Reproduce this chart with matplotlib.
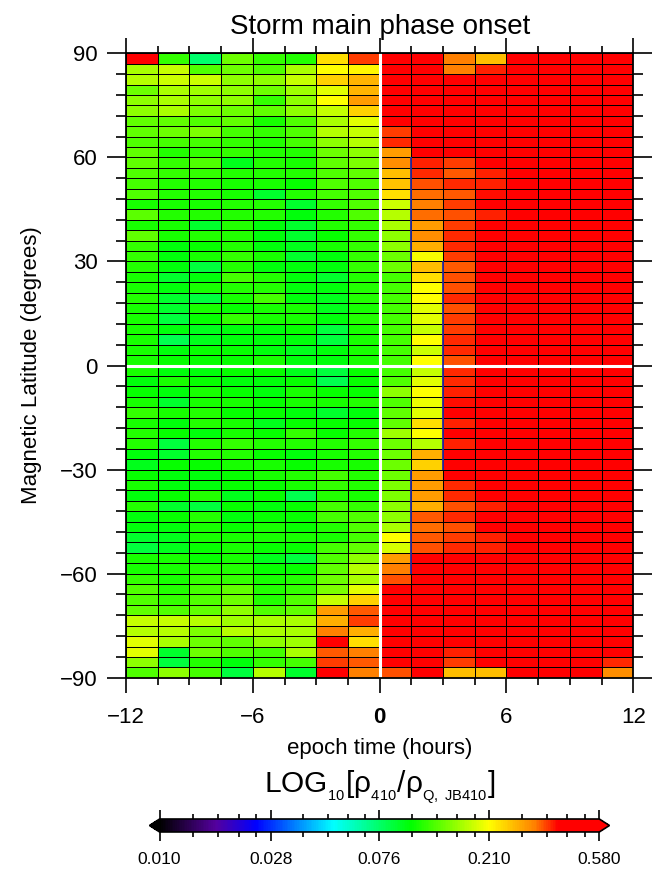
import numpy as np
import matplotlib
matplotlib.use("Agg")
import matplotlib.pyplot as plt
from matplotlib.colors import LinearSegmentedColormap, LogNorm
from matplotlib.ticker import MultipleLocator, FixedLocator, FixedFormatter, NullFormatter

plt.rcParams['font.family'] = ['Liberation Sans', 'DejaVu Sans']
plt.rcParams['mathtext.fontset'] = 'custom'
plt.rcParams['mathtext.rm'] = 'Liberation Sans'
plt.rcParams['mathtext.it'] = 'Liberation Sans:italic'

# bins: 1.5 h in epoch time, 3 deg in magnetic latitude (rows run 90 -> -90)
time_edges = np.arange(-12, 12.01, 1.5)
lat_edges = np.arange(90, -90.01, -3)

R = 0.50  # saturated red cells
ratio = np.array([
    [R, .118, .075, .139, .118, .113, .233, .358, R, R, .322, .259, R, R, R, R],
    [.164, .179, .128, .139, .128, .164, .210, .215, R, R, .322, .377, R, R, R, R],
    [.171, .182, .182, .151, .151, .179, .243, .270, R, R, R, R, R, R, R, R],
    [.139, .164, .158, .151, .139, .158, .194, .270, R, R, R, R, R, R, R, R],
    [.151, .164, .151, .151, .118, .151, .210, .289, R, R, R, R, R, R, R, R],
    [.151, .164, .145, .139, .134, .151, .179, .243, R, R, R, R, R, R, R, R],
    [.134, .134, .128, .134, .109, .128, .164, .194, R, R, R, R, R, R, R, R],
    [.134, .139, .145, .123, .118, .128, .171, .179, .358, R, R, R, R, R, R, R],
    [.128, .123, .123, .118, .113, .123, .151, .171, .367, R, R, R, R, R, R, R],
    [.134, .113, .118, .118, .113, .113, .139, .151, .289, R, R, R, R, R, R, R],
    [.134, .118, .128, .095, .113, .109, .134, .145, .305, .377, .358, .400, R, R, R, R],
    [.128, .118, .118, .113, .113, .113, .128, .134, .259, .367, .339, .377, R, R, R, R],
    [.123, .113, .113, .109, .109, .104, .128, .128, .255, .349, .367, .377, R, R, R, R],
    [.128, .113, .113, .109, .090, .113, .123, .128, .233, .330, .339, .387, R, R, R, R],
    [.109, .109, .109, .113, .113, .090, .118, .128, .182, .322, .358, .400, R, R, R, R],
    [.131, .113, .113, .113, .113, .099, .113, .128, .171, .330, .349, .377, R, R, R, R],
    [.109, .109, .090, .113, .099, .090, .113, .118, .164, .289, .358, R, R, R, R, R],
    [.134, .109, .113, .113, .099, .090, .104, .118, .151, .305, .367, R, R, R, R, R],
    [.118, .099, .104, .113, .099, .095, .109, .118, .151, .274, .367, R, R, R, R, R],
    [.118, .099, .109, .118, .109, .090, .099, .118, .139, .205, .358, R, R, R, R, R],
    [.113, .099, .086, .113, .099, .099, .099, .118, .139, .259, .339, R, R, R, R, R],
    [.109, .090, .099, .123, .113, .099, .090, .113, .123, .233, .349, R, R, R, R, R],
    [.109, .099, .109, .113, .113, .099, .099, .113, .123, .210, .349, R, R, R, R, R],
    [.113, .090, .086, .109, .123, .099, .095, .113, .123, .210, .367, R, R, R, R, R],
    [.109, .090, .109, .104, .109, .109, .095, .109, .123, .194, .349, R, R, R, R, R],
    [.109, .086, .104, .118, .109, .109, .099, .113, .123, .194, .358, R, R, R, R, R],
    [.109, .099, .095, .099, .099, .104, .086, .109, .123, .179, .358, R, R, R, R, R],
    [.109, .082, .095, .099, .099, .099, .086, .109, .123, .210, .367, R, R, R, R, R],
    [.109, .099, .104, .104, .099, .095, .099, .109, .123, .182, .367, R, R, R, R, R],
    [.109, .104, .104, .104, .109, .099, .099, .109, .123, .210, .349, R, R, R, R, R],
    [.109, .099, .099, .104, .104, .095, .086, .104, .123, .179, .367, R, R, R, R, R],
    [.099, .109, .104, .099, .099, .104, .082, .104, .128, .194, .367, R, R, R, R, R],
    [.104, .099, .109, .104, .099, .109, .104, .104, .151, .210, .377, R, R, R, R, R],
    [.109, .090, .109, .109, .104, .109, .109, .113, .128, .198, .387, R, R, R, R, R],
    [.118, .109, .113, .104, .104, .099, .090, .099, .134, .194, R, R, R, R, R, R],
    [.109, .099, .113, .109, .095, .104, .104, .104, .134, .233, .377, R, R, R, R, R],
    [.113, .104, .099, .109, .104, .118, .104, .113, .158, .210, R, R, R, R, R, R],
    [.113, .086, .113, .118, .113, .113, .113, .118, .139, .171, .377, R, R, R, R, R],
    [.099, .090, .113, .113, .104, .099, .109, .113, .139, .274, R, R, R, R, R, R],
    [.095, .104, .104, .109, .109, .104, .109, .109, .139, .246, R, R, R, R, R, R],
    [.104, .099, .099, .104, .109, .113, .123, .113, .139, .289, R, R, R, R, R, R],
    [.109, .099, .099, .104, .104, .109, .118, .113, .145, .289, .367, R, R, R, R, R],
    [.099, .104, .113, .095, .104, .082, .113, .109, .145, .289, .367, R, R, R, R, R],
    [.113, .090, .086, .104, .099, .104, .123, .118, .151, .274, .349, .377, R, R, R, R],
    [.099, .104, .113, .099, .104, .104, .123, .128, .151, .339, .367, R, R, R, R, R],
    [.099, .099, .109, .104, .109, .104, .113, .128, .164, .330, .349, R, R, R, R, R],
    [.090, .095, .109, .109, .109, .109, .109, .123, .210, .339, .358, .377, R, R, R, R],
    [.086, .095, .104, .109, .104, .104, .123, .134, .186, .349, .367, .377, R, R, R, R],
    [.109, .109, .104, .109, .095, .086, .128, .151, .289, R, R, R, R, R, R, R],
    [.109, .109, .113, .113, .104, .104, .134, .171, .322, R, R, R, R, R, R, R],
    [.118, .109, .118, .118, .109, .113, .139, .164, .349, R, R, R, R, R, R, R],
    [.128, .113, .123, .134, .113, .118, .145, .194, R, R, R, R, R, R, R, R],
    [.128, .118, .128, .139, .113, .128, .179, .246, R, R, R, R, R, R, R, R],
    [.134, .128, .134, .151, .128, .134, .289, .339, R, R, R, R, R, R, R, R],
    [.179, .179, .171, .158, .164, .164, .274, .358, R, R, R, R, R, R, R, R],
    [.171, .171, .145, .171, .164, .164, .322, .274, R, R, R, R, R, R, R, R],
    [.194, .164, .139, .134, .151, .158, R, .233, R, R, R, R, R, R, R, R],
    [.194, .090, .139, .128, .123, .164, .339, .322, R, R, .377, R, R, R, R, R],
    [.151, .086, .113, .099, .118, .123, .358, .339, R, R, .358, R, R, R, R, .367],
    [.128, .151, .123, .086, .171, .090, R, .322, .349, R, .259, .259, R, R, R, .305],
])

# boundary of the storm arrival (dark blue segments)
front_time = [1.5, 3.0, 1.5]
front_lat_lo = [30, -30, -60]
front_lat_hi = [60, 30, -30]

cbar_ticks = [0.010, 0.028, 0.076, 0.210, 0.580]

cmap = LinearSegmentedColormap.from_list("idl", [
    (0.000, (0, 0, 0)),
    (0.127, (0.33, 0.0, 0.62)),
    (0.218, (0, 0, 1)),
    (0.395, (0, 1, 1)),
    (0.572, (0, 1, 0)),
    (0.750, (1, 1, 0)),
    (0.855, (1, 0.5, 0)),
    (0.907, (1, 0, 0)),
    (1.000, (1, 0, 0))])
norm = LogNorm(vmin=cbar_ticks[0], vmax=cbar_ticks[-1])

fig = plt.figure(figsize=(6.58, 8.71), dpi=100)
ax = fig.add_axes([0.1915, 0.2219, 0.7710, 0.7169])
mesh = ax.pcolormesh(time_edges, lat_edges, ratio, cmap=cmap, norm=norm,
                     edgecolors='k', linewidth=0.55)
ax.axvline(0, color='white', lw=2.2)
ax.axhline(0, color='white', lw=2.2)
ax.vlines(front_time, front_lat_lo, front_lat_hi, color='#2a2aa0', lw=1.3)

ax.set_xlim(-12, 12)
ax.set_ylim(-90, 90)
ax.xaxis.set_major_locator(MultipleLocator(6))
ax.xaxis.set_minor_locator(MultipleLocator(1.5))
ax.yaxis.set_major_locator(MultipleLocator(30))
ax.yaxis.set_minor_locator(MultipleLocator(6))
ax.tick_params(axis='x', which='major', direction='out', length=11, width=1.2,
               top=True, labelsize=16, pad=10)
ax.tick_params(axis='x', which='minor', direction='out', length=5.3, width=1.2, top=True)
ax.tick_params(axis='y', which='major', direction='out', length=14, width=1.2,
               right=True, labelsize=16, pad=6.5)
ax.tick_params(axis='y', which='minor', direction='out', length=7.5, width=1.2, right=True)
for s in ax.spines.values():
    s.set_linewidth(1.3)
for lab in ax.get_xticklabels():
    if lab.get_text() in ('0',):
        lab.set_fontweight('bold')

ax.set_title("Storm main phase onset", fontsize=20, pad=14)
ax.set_xlabel("epoch time (hours)", fontsize=16, labelpad=7)
ax.set_ylabel("Magnetic Latitude (degrees)", fontsize=16, labelpad=13)

cax = fig.add_axes([0.2272, 0.0448, 0.699, 0.0149])
cb = fig.colorbar(mesh, cax=cax, orientation='horizontal', extend='both',
                  extendfrac=0.023, ticks=cbar_ticks)
cb.outline.set_linewidth(1.2)
cb.ax.xaxis.set_major_formatter(FixedFormatter(["%.3f" % t for t in cbar_ticks]))
minor = []
for a, b in zip(cbar_ticks[:-1], cbar_ticks[1:]):
    minor += list(np.linspace(a, b, 6)[1:-1])
cb.ax.xaxis.set_minor_locator(FixedLocator(minor))
cb.ax.xaxis.set_minor_formatter(NullFormatter())
cb.ax.tick_params(which='major', direction='out', length=6.5, width=1.2,
                  top=True, bottom=True, labelsize=12.5, pad=8)
cb.ax.tick_params(which='minor', direction='out', length=3.4, width=1.2,
                  top=True, bottom=True)
fig.text(0.5775, 1 - 787 / 871.,
         r"LOG$_{_{10}}$[ρ$_{_{410}}$/ρ$_{_{\mathrm{Q,\ JB410}}}$]",
         ha='center', va='center', fontsize=21.5)

fig.savefig("out.png", dpi=100)
